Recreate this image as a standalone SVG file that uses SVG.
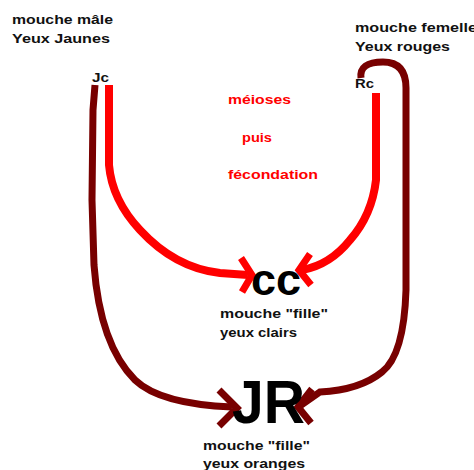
<svg xmlns="http://www.w3.org/2000/svg" width="474" height="470" viewBox="0 0 474 470">
<style>
.t{font-family:"Liberation Sans",Arial,sans-serif;font-size:13px;font-weight:bold;fill:#111}
.r{font-family:"Liberation Sans",Arial,sans-serif;font-size:13px;font-weight:bold;fill:#ff0000}
.big{font-family:"Liberation Sans",Arial,sans-serif;font-weight:bold;fill:#000}
.dk{fill:none;stroke:#780000;stroke-width:7}
.rd{fill:none;stroke:#ff0000;stroke-width:8}
.hd{fill:none;stroke-width:7;stroke-linejoin:miter;stroke-linecap:butt}
</style>
<rect width="474" height="470" fill="#fff"/>
<g id="connectors">
<path class="dk" d="M95 85 L93 110 L92 200 L94 265 Q100 345 135 380 Q160 404 232 407"/>
<polyline class="hd" stroke="#780000" points="219,390 237,408 219,426"/>
<path class="rd" d="M109 85 L109 165 Q112 200 140 230 Q175 268 220 273 L248 275"/>
<polyline class="hd" stroke="#ff0000" points="241,258 252,275 242,292"/>
<path class="rd" d="M376 93 L376 180 Q372 215 350 240 Q330 265 302 270"/>
<polyline class="hd" stroke="#ff0000" points="310,254 299,270 311,285"/>
<path class="dk" d="M361 78 Q359 62 383 62 Q406 62 406 88 L406 290 Q404 355 382 372 Q360 390 320 392 L300 406"/>
<polyline class="hd" stroke="#780000" points="312,389 298,407 311,423"/>
</g>
<g id="male">
<text class="t" x="12" y="24" textLength="101" lengthAdjust="spacingAndGlyphs">mouche mâle</text>
<text class="t" x="12" y="43" textLength="98" lengthAdjust="spacingAndGlyphs">Yeux Jaunes</text>
<text class="t" x="92" y="82" textLength="17" lengthAdjust="spacingAndGlyphs">Jc</text>
</g>
<g id="femelle">
<text class="t" x="355" y="32" textLength="122" lengthAdjust="spacingAndGlyphs">mouche femelle</text>
<text class="t" x="355" y="51" textLength="95" lengthAdjust="spacingAndGlyphs">Yeux rouges</text>
<text class="t" x="355" y="88" textLength="19" lengthAdjust="spacingAndGlyphs">Rc</text>
</g>
<g id="label">
<text class="r" x="228" y="104" textLength="63" lengthAdjust="spacingAndGlyphs">méioses</text>
<text class="r" x="242" y="142" textLength="30" lengthAdjust="spacingAndGlyphs">puis</text>
<text class="r" x="228" y="179" textLength="90" lengthAdjust="spacingAndGlyphs">fécondation</text>
</g>
<g id="cc">
<text class="big" x="251" y="295" font-size="44" textLength="50" lengthAdjust="spacingAndGlyphs">cc</text>
<text class="t" x="220" y="318" textLength="108" lengthAdjust="spacingAndGlyphs">mouche "fille"</text>
<text class="t" x="220" y="337" textLength="77" lengthAdjust="spacingAndGlyphs">yeux clairs</text>
</g>
<g id="jr">
<text class="big" x="232" y="423" font-size="62" textLength="73" lengthAdjust="spacingAndGlyphs">JR</text>
<text class="t" x="203" y="450" textLength="107" lengthAdjust="spacingAndGlyphs">mouche "fille"</text>
<text class="t" x="203" y="468" textLength="102" lengthAdjust="spacingAndGlyphs">yeux oranges</text>
</g>
</svg>
